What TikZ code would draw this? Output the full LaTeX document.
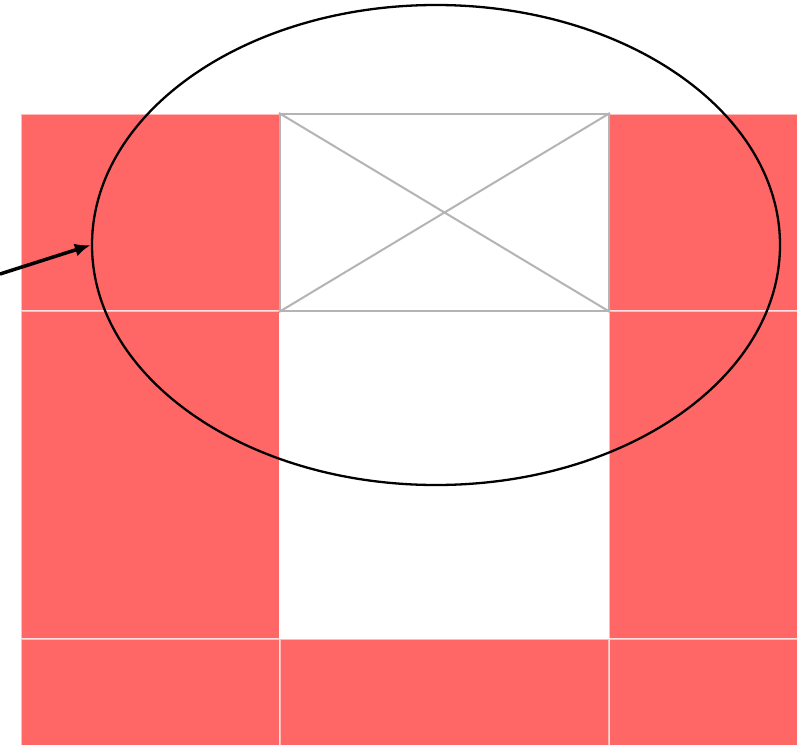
\documentclass[tikz,border=0pt]{standalone}
\usetikzlibrary{shapes.geometric, arrows.meta}
\definecolor{cellred}{RGB}{255,102,102}
\definecolor{wiregray}{RGB}{180,180,180}

\begin{document}
\begin{tikzpicture}[x=1pt, y=-1pt,
    cell/.style={fill=cellred, draw=white, draw opacity=0.55, line width=1.5pt,
      inner sep=0pt, anchor=north west},
    gap/.style={fill=white, inner sep=0pt, anchor=north west}]
  \useasboundingbox (0,0) rectangle (797,744);
  \begin{scope}
    \clip (0,0) rectangle (797,744);
    % red grid, the middle column is open in the two top rows
    \foreach \c/\x/\w in {l/20/259, r/608/329} {
      \foreach \r/\y/\h in {1/113/197, 2/310/328, 3/638/150} {
        \node[cell, minimum width=\w pt, minimum height=\h pt] (\c\r) at (\x,\y) {};
      }
    }
    \node[cell, minimum width=329pt, minimum height=150pt] (m3) at (279,638) {};
    \node[gap, minimum width=329pt, minimum height=328pt] (m2) at (279,310) {};
    \node[gap, draw=wiregray, line width=2pt, minimum width=329pt, minimum height=197pt] (m1) at (279,113) {};
    \draw[wiregray, line width=2pt] (m1.north west) -- (m1.south east)
      (m1.south west) -- (m1.north east);
  \end{scope}
  % highlight
  \node[ellipse, draw, line width=2.3pt, minimum width=688pt, minimum height=480pt,
    inner sep=0pt] (hole) at (436,245) {};
  \coordinate (tail) at (0,274);
  \draw[line width=3.5pt, -{Latex[length=16pt, width=13pt]}] (tail) -- (hole.west);
\end{tikzpicture}
\end{document}
